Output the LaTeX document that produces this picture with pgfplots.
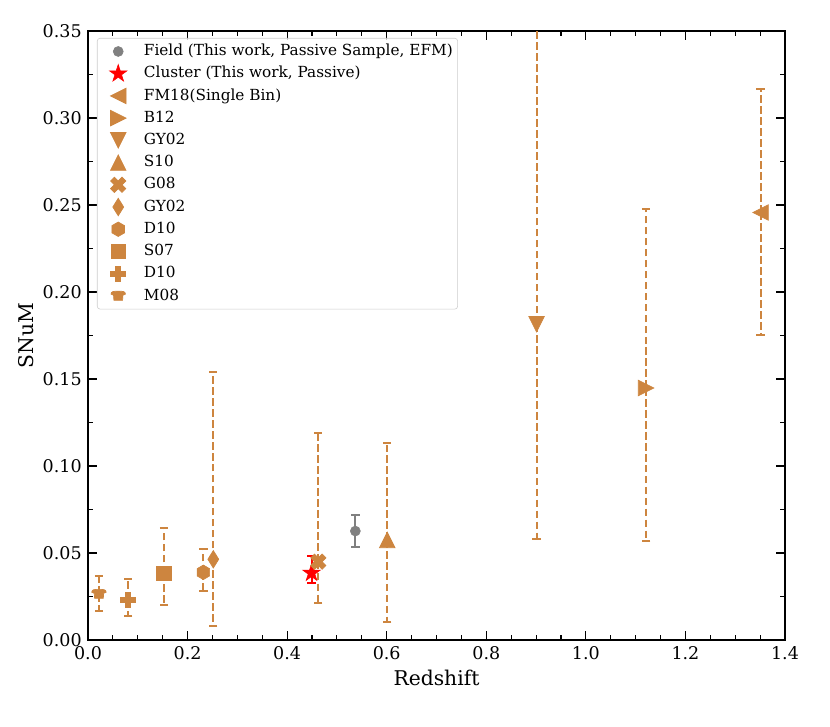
\documentclass[border=0pt]{standalone}
\usepackage{fontspec}
\setmainfont{DejaVu Serif}
\usepackage{pgfplots}
\pgfplotsset{compat=1.18}
\definecolor{peru}{RGB}{205,133,63}
\definecolor{mgray}{RGB}{128,128,128}
\makeatletter
% matplotlib-like marks
\pgfdeclareplotmark{mtriup}{%
 \pgfpathmoveto{\pgfqpoint{0pt}{\pgfplotmarksize}}%
 \pgfpathlineto{\pgfqpoint{-\pgfplotmarksize}{-\pgfplotmarksize}}%
 \pgfpathlineto{\pgfqpoint{\pgfplotmarksize}{-\pgfplotmarksize}}%
 \pgfpathclose\pgfusepathqfillstroke}
\pgfdeclareplotmark{mtridown}{%
 \pgfpathmoveto{\pgfqpoint{0pt}{-\pgfplotmarksize}}%
 \pgfpathlineto{\pgfqpoint{-\pgfplotmarksize}{\pgfplotmarksize}}%
 \pgfpathlineto{\pgfqpoint{\pgfplotmarksize}{\pgfplotmarksize}}%
 \pgfpathclose\pgfusepathqfillstroke}
\pgfdeclareplotmark{mtrileft}{%
 \pgfpathmoveto{\pgfqpoint{-\pgfplotmarksize}{0pt}}%
 \pgfpathlineto{\pgfqpoint{\pgfplotmarksize}{\pgfplotmarksize}}%
 \pgfpathlineto{\pgfqpoint{\pgfplotmarksize}{-\pgfplotmarksize}}%
 \pgfpathclose\pgfusepathqfillstroke}
\pgfdeclareplotmark{mtriright}{%
 \pgfpathmoveto{\pgfqpoint{\pgfplotmarksize}{0pt}}%
 \pgfpathlineto{\pgfqpoint{-\pgfplotmarksize}{\pgfplotmarksize}}%
 \pgfpathlineto{\pgfqpoint{-\pgfplotmarksize}{-\pgfplotmarksize}}%
 \pgfpathclose\pgfusepathqfillstroke}
\pgfdeclareplotmark{mstar}{%
 \pgfpathmoveto{\pgfqpoint{0pt}{\pgfplotmarksize}}%
 \pgfpathlineto{\pgfqpoint{-0.2245\pgfplotmarksize}{0.3090\pgfplotmarksize}}%
 \pgfpathlineto{\pgfqpoint{-0.9511\pgfplotmarksize}{0.3090\pgfplotmarksize}}%
 \pgfpathlineto{\pgfqpoint{-0.3633\pgfplotmarksize}{-0.1180\pgfplotmarksize}}%
 \pgfpathlineto{\pgfqpoint{-0.5878\pgfplotmarksize}{-0.8090\pgfplotmarksize}}%
 \pgfpathlineto{\pgfqpoint{0pt}{-0.382\pgfplotmarksize}}%
 \pgfpathlineto{\pgfqpoint{0.5878\pgfplotmarksize}{-0.8090\pgfplotmarksize}}%
 \pgfpathlineto{\pgfqpoint{0.3633\pgfplotmarksize}{-0.1180\pgfplotmarksize}}%
 \pgfpathlineto{\pgfqpoint{0.9511\pgfplotmarksize}{0.3090\pgfplotmarksize}}%
 \pgfpathlineto{\pgfqpoint{0.2245\pgfplotmarksize}{0.3090\pgfplotmarksize}}%
 \pgfpathclose\pgfusepathqfillstroke}
\pgfdeclareplotmark{mX}{%
 \pgfpathmoveto{\pgfqpoint{-0.5\pgfplotmarksize}{-\pgfplotmarksize}}%
 \pgfpathlineto{\pgfqpoint{0pt}{-0.5\pgfplotmarksize}}%
 \pgfpathlineto{\pgfqpoint{0.5\pgfplotmarksize}{-\pgfplotmarksize}}%
 \pgfpathlineto{\pgfqpoint{\pgfplotmarksize}{-0.5\pgfplotmarksize}}%
 \pgfpathlineto{\pgfqpoint{0.5\pgfplotmarksize}{0pt}}%
 \pgfpathlineto{\pgfqpoint{\pgfplotmarksize}{0.5\pgfplotmarksize}}%
 \pgfpathlineto{\pgfqpoint{0.5\pgfplotmarksize}{\pgfplotmarksize}}%
 \pgfpathlineto{\pgfqpoint{0pt}{0.5\pgfplotmarksize}}%
 \pgfpathlineto{\pgfqpoint{-0.5\pgfplotmarksize}{\pgfplotmarksize}}%
 \pgfpathlineto{\pgfqpoint{-\pgfplotmarksize}{0.5\pgfplotmarksize}}%
 \pgfpathlineto{\pgfqpoint{-0.5\pgfplotmarksize}{0pt}}%
 \pgfpathlineto{\pgfqpoint{-\pgfplotmarksize}{-0.5\pgfplotmarksize}}%
 \pgfpathclose\pgfusepathqfillstroke}
\pgfdeclareplotmark{mP}{%
 \pgfpathmoveto{\pgfqpoint{-0.3333\pgfplotmarksize}{-\pgfplotmarksize}}%
 \pgfpathlineto{\pgfqpoint{0.3333\pgfplotmarksize}{-\pgfplotmarksize}}%
 \pgfpathlineto{\pgfqpoint{0.3333\pgfplotmarksize}{-0.3333\pgfplotmarksize}}%
 \pgfpathlineto{\pgfqpoint{\pgfplotmarksize}{-0.3333\pgfplotmarksize}}%
 \pgfpathlineto{\pgfqpoint{\pgfplotmarksize}{0.3333\pgfplotmarksize}}%
 \pgfpathlineto{\pgfqpoint{0.3333\pgfplotmarksize}{0.3333\pgfplotmarksize}}%
 \pgfpathlineto{\pgfqpoint{0.3333\pgfplotmarksize}{\pgfplotmarksize}}%
 \pgfpathlineto{\pgfqpoint{-0.3333\pgfplotmarksize}{\pgfplotmarksize}}%
 \pgfpathlineto{\pgfqpoint{-0.3333\pgfplotmarksize}{0.3333\pgfplotmarksize}}%
 \pgfpathlineto{\pgfqpoint{-\pgfplotmarksize}{0.3333\pgfplotmarksize}}%
 \pgfpathlineto{\pgfqpoint{-\pgfplotmarksize}{-0.3333\pgfplotmarksize}}%
 \pgfpathlineto{\pgfqpoint{-0.3333\pgfplotmarksize}{-0.3333\pgfplotmarksize}}%
 \pgfpathclose\pgfusepathqfillstroke}
\pgfdeclareplotmark{mhex}{%
 \pgfpathmoveto{\pgfqpoint{0pt}{\pgfplotmarksize}}%
 \pgfpathlineto{\pgfqpoint{-0.866\pgfplotmarksize}{0.5\pgfplotmarksize}}%
 \pgfpathlineto{\pgfqpoint{-0.866\pgfplotmarksize}{-0.5\pgfplotmarksize}}%
 \pgfpathlineto{\pgfqpoint{0pt}{-\pgfplotmarksize}}%
 \pgfpathlineto{\pgfqpoint{0.866\pgfplotmarksize}{-0.5\pgfplotmarksize}}%
 \pgfpathlineto{\pgfqpoint{0.866\pgfplotmarksize}{0.5\pgfplotmarksize}}%
 \pgfpathclose\pgfusepathqfillstroke}
\pgfdeclareplotmark{mthindiamond}{%
 \pgfpathmoveto{\pgfqpoint{0pt}{\pgfplotmarksize}}%
 \pgfpathlineto{\pgfqpoint{-0.62\pgfplotmarksize}{0pt}}%
 \pgfpathlineto{\pgfqpoint{0pt}{-\pgfplotmarksize}}%
 \pgfpathlineto{\pgfqpoint{0.62\pgfplotmarksize}{0pt}}%
 \pgfpathclose\pgfusepathqfillstroke}
\pgfdeclareplotmark{msquare}{%
 \pgfpathrectangle{\pgfqpoint{-\pgfplotmarksize}{-\pgfplotmarksize}}{\pgfqpoint{2\pgfplotmarksize}{2\pgfplotmarksize}}%
 \pgfusepathqfillstroke}
\pgfdeclareplotmark{mcup}{%
 \pgfpathmoveto{\pgfqpoint{-0.6\pgfplotmarksize}{-0.6\pgfplotmarksize}}%
 \pgfpathlineto{\pgfqpoint{0.6\pgfplotmarksize}{-0.6\pgfplotmarksize}}%
 \pgfpathlineto{\pgfqpoint{0.65\pgfplotmarksize}{0.1\pgfplotmarksize}}%
 \pgfpathlineto{\pgfqpoint{\pgfplotmarksize}{0.25\pgfplotmarksize}}%
 \pgfpathcurveto{\pgfqpoint{\pgfplotmarksize}{0.65\pgfplotmarksize}}{\pgfqpoint{0.6\pgfplotmarksize}{0.65\pgfplotmarksize}}{\pgfqpoint{0pt}{0.65\pgfplotmarksize}}%
 \pgfpathcurveto{\pgfqpoint{-0.6\pgfplotmarksize}{0.65\pgfplotmarksize}}{\pgfqpoint{-\pgfplotmarksize}{0.65\pgfplotmarksize}}{\pgfqpoint{-\pgfplotmarksize}{0.25\pgfplotmarksize}}%
 \pgfpathlineto{\pgfqpoint{-0.65\pgfplotmarksize}{0.1\pgfplotmarksize}}%
 \pgfpathclose\pgfusepathqfillstroke}
\makeatother
\pgfplotsset{
  perustyle/.style={only marks, color=peru, mark options={fill=peru, draw=peru, solid, line width=0.5pt},
    /pgfplots/error bars/y dir=both, /pgfplots/error bars/y explicit,
    /pgfplots/error bars/error bar style={line width=1.5pt, dash pattern=on 5.5pt off 2.4pt, color=peru},
    /pgfplots/error bars/error mark options={rotate=90, mark size=3pt, line width=1.4pt, solid, color=peru}},
}
\begin{document}
\begin{tikzpicture}
\begin{axis}[name=ax,
  scale only axis, width=501.84pt, height=438.48pt,
  xmin=0, xmax=1.4, ymin=0, ymax=0.35,
  xtick={0,0.2,0.4,0.6,0.8,1.0,1.2,1.4},
  ytick={0,0.05,0.10,0.15,0.20,0.25,0.30,0.35},
  minor x tick num=3, minor y tick num=1,
  tick align=inside,
  major tick length=6.5pt, minor tick length=3.6pt,
  every tick/.style={black, line width=0.8pt},
  axis line style={line width=0.8pt},
  x tick label style={yshift=-1pt, /pgf/number format/fixed, /pgf/number format/fixed zerofill, /pgf/number format/precision=1},
  y tick label style={xshift=-1pt, /pgf/number format/fixed, /pgf/number format/fixed zerofill, /pgf/number format/precision=2},
  /pgf/number format/assume math mode=true,
  tick label style={font=\fontsize{12.6}{14}\selectfont},
  scaled ticks=false,
  xlabel={Redshift}, ylabel={SNuM},
  label style={font=\fontsize{14.6}{16}\selectfont},
  xlabel style={at={(axis description cs:0.5,-0.0616)}, anchor=center},
  ylabel style={at={(axis description cs:-0.089,0.5)}, anchor=center},
  legend style={at={(axis description cs:0.0129,0.9885)}, anchor=north west,
    draw=black!20, fill=white, fill opacity=0.8, text opacity=1, rounded corners=2pt,
    font=\fontsize{11}{13}\selectfont, inner xsep=1.5pt, inner ysep=4pt,
    nodes={text height=8.5pt, text depth=2.5pt, inner ysep=0pt}, row sep=5pt},
  legend cell align=left,
  legend image code/.code={%
    \path[draw=none, fill=none] (0pt,-2pt) rectangle (30.1pt,2pt);
    \pgfinterruptboundingbox
    \draw[#1, only marks, fill opacity=1, draw opacity=1] plot coordinates {(13.6pt,0pt)};
    \endpgfinterruptboundingbox},
  clip=true,
]
% Field
\addplot[only marks, color=mgray, mark=*, mark size=3.6pt, mark options={fill=mgray, draw=mgray},
  error bars/.cd, y dir=both, y explicit,
  error bar style={line width=1.4pt, solid, color=mgray},
  error mark options={rotate=90, mark size=3pt, line width=1.4pt, color=mgray}]
  coordinates {(0.537,0.0626) += (0,0.0092) -= (0,0.0090)};
\addlegendentry{Field (This work, Passive Sample, EFM)}
% Cluster
\addplot[only marks, color=red, mark=mstar, mark size=6.6pt, mark options={fill=red, draw=red, line width=0.4pt},
  error bars/.cd, y dir=both, y explicit,
  error bar style={line width=1.4pt, solid, color=red},
  error mark options={rotate=90, mark size=3pt, line width=1.4pt, color=red}]
  coordinates {(0.449,0.0385) += (0,0.0100) -= (0,0.0059)};
\addlegendentry{Cluster (This work, Passive)}
% FM18
\addplot[perustyle, mark=mtrileft, mark size=5.6pt]
  coordinates {(1.351,0.2457) += (0,0.0710) -= (0,0.0705)};
\addlegendentry{FM18(Single Bin)}
% B12
\addplot[perustyle, mark=mtriright, mark size=5.6pt]
  coordinates {(1.121,0.1448) += (0,0.1030) -= (0,0.0879)};
\addlegendentry{B12}
% GY02 down
\addplot[perustyle, mark=mtridown, mark size=5.6pt]
  coordinates {(0.901,0.1815) += (0,0.2500) -= (0,0.1235)};
\addlegendentry{GY02}
% S10
\addplot[perustyle, mark=mtriup, mark size=5.6pt]
  coordinates {(0.601,0.0575) += (0,0.0555) -= (0,0.0473)};
\addlegendentry{S10}
% G08
\addplot[perustyle, mark=mX, mark size=5.5pt]
  coordinates {(0.4626,0.0450) += (0,0.0740) -= (0,0.0239)};
\addlegendentry{G08}
% GY02 diamond
\addplot[perustyle, mark=mthindiamond, mark size=6.3pt]
  coordinates {(0.2517,0.0464) += (0,0.1076) -= (0,0.0382)};
\addlegendentry{GY02}
% D10 hexagon
\addplot[perustyle, mark=mhex, mark size=5.2pt]
  coordinates {(0.2317,0.0389) += (0,0.0132) -= (0,0.0107)};
\addlegendentry{D10}
% S07
\addplot[perustyle, mark=msquare, mark size=5.2pt]
  coordinates {(0.1526,0.0383) += (0,0.0259) -= (0,0.0182)};
\addlegendentry{S07}
% D10 plus
\addplot[perustyle, mark=mP, mark size=5.4pt]
  coordinates {(0.081,0.0230) += (0,0.0121) -= (0,0.0090)};
\addlegendentry{D10}
% M08
\addplot[perustyle, mark=mcup, mark size=5.2pt]
  coordinates {(0.022,0.0264) += (0,0.0106) -= (0,0.0095)};
\addlegendentry{M08}
\end{axis}
\pgfresetboundingbox
\path ([shift={(-63.36pt,-62.64pt)}]ax.south west) rectangle ([shift={(32.4pt,22.32pt)}]ax.north east);
\end{tikzpicture}
\end{document}
